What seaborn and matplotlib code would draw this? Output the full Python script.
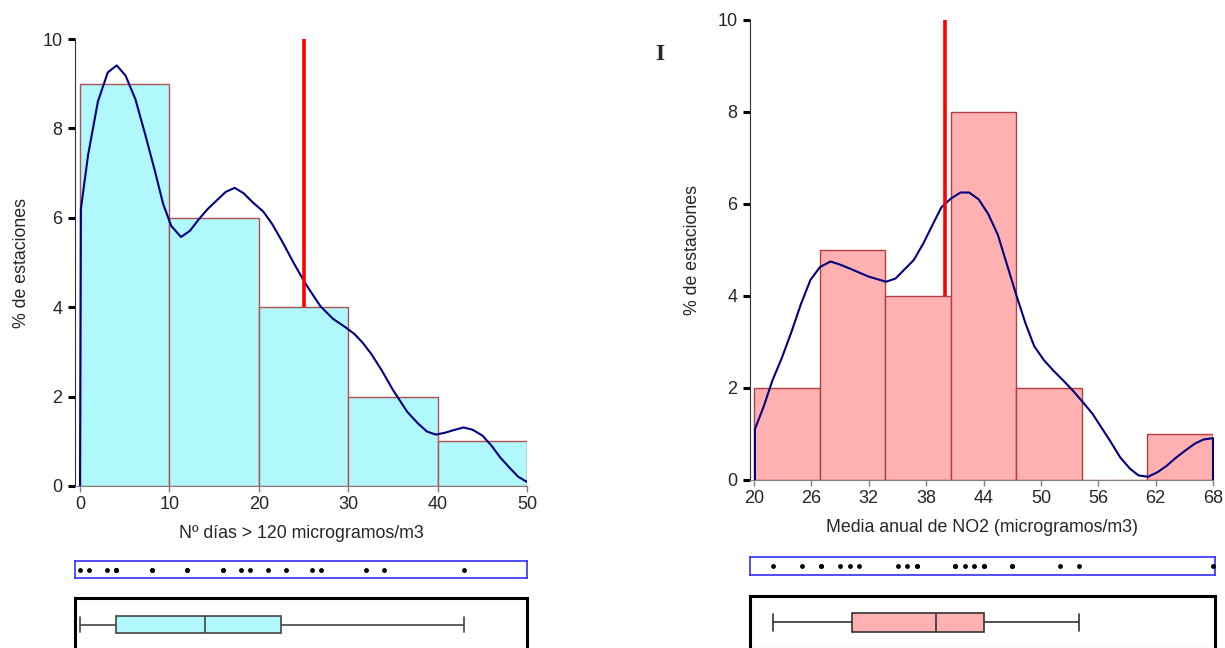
import numpy as np
import pandas as pd
import matplotlib
matplotlib.use("Agg")
import matplotlib.pyplot as plt
import seaborn as sns

# 1. Data
# ozone: days > 120 ug/m3 per station
dias_ozono = [0, 1, 3, 4, 4, 4, 4, 8, 8, 12, 12, 16, 16, 18, 19,
              21, 23, 26, 27, 32, 34, 43]
bordes_ozono = [0, 10, 20, 30, 40, 50]
ticks_ozono = [0, 10, 20, 30, 40, 50]
umbral_ozono = 25

# density curve drawn over the ozone histogram
kde_ozono_x = [0, 0.1, 0.9, 2.0, 3.1, 4.1, 5.1, 6.2, 7.3, 8.4, 9.3, 10.2, 11.3,
               12.3, 13.3, 14.3, 15.3, 16.3, 17.3, 18.3, 19.3, 20.5, 21.5,
               22.7, 23.9, 25.1, 25.7, 26.9, 28.3, 29.7, 30.7, 31.6, 32.6,
               33.8, 35.0, 36.6, 37.8, 38.8, 39.8, 40.8, 41.8, 42.9, 43.9,
               45.0, 46.0, 47.0, 48.0, 49.0, 50.0]
kde_ozono_y = [0, 6.2, 7.4, 8.6, 9.25, 9.41, 9.18, 8.65, 7.86, 7.03, 6.31,
               5.82, 5.57, 5.71, 5.97, 6.2, 6.39, 6.58, 6.67, 6.55, 6.35,
               6.14, 5.86, 5.44, 4.99, 4.57, 4.38, 4.02, 3.74, 3.55, 3.40,
               3.21, 2.95, 2.57, 2.15, 1.66, 1.40, 1.22, 1.15, 1.19, 1.25,
               1.31, 1.26, 1.13, 0.91, 0.64, 0.42, 0.21, 0.09]

# NO2 annual mean per station
media_no2 = [22, 25, 27, 27, 29, 30, 31, 35, 36, 37, 37, 41, 41, 42, 43, 44,
             44, 47, 47, 52, 54, 68]
rango_no2 = (20, 68)
n_bins_no2 = 7
ticks_no2 = [20, 26, 32, 38, 44, 50, 56, 62, 68]
umbral_no2 = 40

kde_no2_x = [20.1, 20.1, 21.0, 21.9, 22.9, 23.9, 24.9, 25.9, 26.9, 28.0, 28.9,
             30.1, 31.1, 32.0, 33.0, 33.8, 34.8, 35.7, 36.7, 37.7, 38.7,
             39.6, 40.6, 41.6, 42.5, 43.5, 44.5, 45.5, 46.4, 47.4, 48.4,
             49.3, 50.3, 51.3, 52.4, 53.4, 54.4, 55.4, 56.3, 57.3, 58.3,
             59.3, 60.2, 61.2, 62.2, 63.1, 64.1, 65.1, 66.1, 67.0, 68.0, 68.0]
kde_no2_y = [0, 1.11, 1.59, 2.15, 2.65, 3.21, 3.82, 4.35, 4.63, 4.75, 4.69,
             4.59, 4.50, 4.42, 4.36, 4.31, 4.38, 4.57, 4.78, 5.14, 5.56,
             5.93, 6.12, 6.25, 6.25, 6.10, 5.78, 5.33, 4.72, 4.04, 3.40,
             2.91, 2.61, 2.38, 2.15, 1.93, 1.69, 1.44, 1.15, 0.83, 0.49,
             0.25, 0.10, 0.07, 0.17, 0.30, 0.48, 0.64, 0.79, 0.88, 0.91, 0]

# red limit line starts on top of the bar it crosses
base_umbral = 4

# 2. Style
sns.set_style("white")
plt.rcParams["font.family"] = ["Liberation Sans", "DejaVu Sans"]
plt.rcParams["font.size"] = 12

W, H = 1225, 648
fig = plt.figure(figsize=(W / 100, H / 100), dpi=100)


def box(px_left, px_top, px_w, px_h):
    return [px_left / W, 1 - (px_top + px_h) / H, px_w / W, px_h / H]


def style_hist(ax, ticks, xlabel, pad_y):
    ax.set_ylim(0, 10)
    ax.set_yticks([0, 2, 4, 6, 8, 10])
    ax.set_xticks(ticks)
    ax.set_xlabel(xlabel, fontsize=12.8, labelpad=9)
    ax.set_ylabel("% de estaciones", fontsize=12.8, labelpad=pad_y)
    for s in ["top", "right"]:
        ax.spines[s].set_visible(False)
    ax.spines["left"].set_color("#333333")
    ax.spines["bottom"].set_color("#808080")
    ax.tick_params(axis="y", left=True, direction="out", length=5, width=2.2,
                   color="black", labelsize=13, pad=4)
    ax.tick_params(axis="x", bottom=True, direction="out", length=4, width=1,
                   color="#808080", labelsize=13, pad=3)


def style_strip(ax, xlim):
    ax.set_xlim(*xlim)
    ax.set_xticks([])
    ax.set_yticks([])
    ax.set_xlabel("")
    ax.set_ylabel("")
    for s in ax.spines.values():
        s.set_visible(True)
        s.set_color("#3030ff")
        s.set_linewidth(1.2)


def style_box(ax, xlim):
    ax.set_xlim(*xlim)
    ax.set_ylim(0.5, -0.5)
    ax.set_xticks([])
    ax.set_yticks([])
    ax.set_xlabel("")
    ax.set_ylabel("")
    for s in ax.spines.values():
        s.set_visible(True)
        s.set_color("black")
        s.set_linewidth(2.2)


# 3. Left: ozone days
xlim_oz = (-0.56, 50.0)
ax1 = fig.add_axes(box(75, 39, 452, 447))
sns.histplot(x=dias_ozono, bins=bordes_ozono, color="#b0f8fc", alpha=1,
             edgecolor="#b05050", linewidth=1, ax=ax1)
sns.lineplot(x=kde_ozono_x, y=kde_ozono_y, sort=False, estimator=None,
             color="#000080", linewidth=1.5, ax=ax1)
ax1.vlines(umbral_ozono, base_umbral, 10, color="red", linewidth=2.6)
ax1.set_xlim(*xlim_oz)
style_hist(ax1, ticks_ozono, "Nº días > 120 microgramos/m3", 9)

ax1s = fig.add_axes(box(75, 561, 452, 17))
sns.stripplot(x=dias_ozono, jitter=False, color="black", size=3.5, ax=ax1s)
style_strip(ax1s, xlim_oz)

ax1b = fig.add_axes(box(75, 598, 452, 53))
sns.boxplot(x=dias_ozono, width=0.32, color="#b0f8fc", saturation=1,
            showfliers=False, linecolor="#444444", linewidth=1.2,
            capwidths=0.3, ax=ax1b)
style_box(ax1b, xlim_oz)

# 4. Right: NO2 annual mean
xlim_no2 = (19.58, 68.0)
ax2 = fig.add_axes(box(750, 20, 463, 460))
sns.histplot(x=media_no2, bins=n_bins_no2, binrange=rango_no2,
             color="#ffb0b0", alpha=1, edgecolor="#b04040", linewidth=1,
             ax=ax2)
sns.lineplot(x=kde_no2_x, y=kde_no2_y, sort=False, estimator=None,
             color="#000080", linewidth=1.5, ax=ax2)
for ln in ax2.lines:
    ln.set_clip_on(False)
ax2.vlines(umbral_no2, base_umbral, 10, color="red", linewidth=2.6)
ax2.set_xlim(*xlim_no2)
style_hist(ax2, ticks_no2, "Media anual de NO2 (microgramos/m3)", 12)

xlim_no2_s = (19.58, 68.18)
ax2s = fig.add_axes(box(750, 557, 465, 18))
sns.stripplot(x=media_no2, jitter=False, color="black", size=3.5, ax=ax2s)
for c in ax2s.collections:
    c.set_clip_on(False)
style_strip(ax2s, xlim_no2_s)

ax2b = fig.add_axes(box(750, 596, 465, 53))
sns.boxplot(x=media_no2, width=0.34, color="#ffb0b0", saturation=1,
            showfliers=False, linecolor="#333333", linewidth=1.2,
            capwidths=0.32, ax=ax2b)
style_box(ax2b, xlim_no2_s)

# stray mark in the source image
fig.text(660 / W, 1 - 55 / H, "I", family=["Liberation Serif", "DejaVu Serif"],
         weight="bold", fontsize=17, ha="center", va="center")

plt.savefig("out.png", dpi=100)
